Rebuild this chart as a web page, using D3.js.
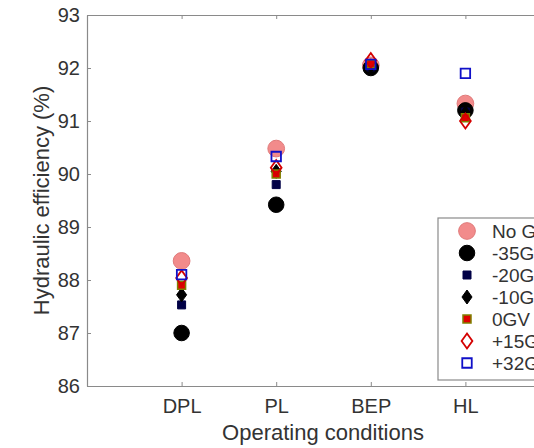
<!DOCTYPE html>
<html>
<head>
<meta charset="utf-8">
<script src="https://cdn.jsdelivr.net/npm/d3@7"></script>
<style>
  body { margin: 0; background: #fff; }
  text { font-family: "Liberation Sans", Arial, sans-serif; }
</style>
</head>
<body>
<script>
// operating points and guide vane cases
var conditions = ["DPL", "PL", "BEP", "HL"];
var yTicks = [86, 87, 88, 89, 90, 91, 92, 93];

var noGV   = [88.36, 90.48, 92.05, 91.33];
var gvM35  = [87.00, 89.42, 92.00, 91.20];
var gvM20  = [87.53, 89.80, 92.02, 91.17];
var gvM10  = [87.72, 90.05, 92.04, 91.15];
var gv0    = [87.90, 90.00, 92.08, 91.06];
var gvP15  = [88.04, 90.12, 92.14, 91.00];
var gvP32  = [88.10, 90.33, 92.07, 91.90];

var series = [
  {name: "No GV", values: noGV,  shape: d3.symbolCircle,  size: 220, fill: "#f28b8b", stroke: "#e07a7a", sw: 1},
  {name: "-35GV", values: gvM35, shape: d3.symbolCircle,  size: 190, fill: "#000",    stroke: "#000",    sw: 1},
  {name: "-20GV", values: gvM20, shape: d3.symbolSquare,  size: 64,  fill: "#000046", stroke: "#000046", sw: 1},
  {name: "-10GV", values: gvM10, shape: "diamond",        size: 7,   fill: "#000",    stroke: "#000",    sw: 1},
  {name: "0GV",   values: gv0,   shape: d3.symbolSquare,  size: 64,  fill: "#e00000", stroke: "#808000", sw: 1.5},
  {name: "+15GV", values: gvP15, shape: "diamond",        size: 7.5, fill: "none",    stroke: "#d40000", sw: 1.8},
  {name: "+32GV", values: gvP32, shape: d3.symbolSquare,  size: 90,  fill: "none",    stroke: "#1010c8", sw: 1.8}
];

var W = 534, H = 448;
var mLeft = 87, mTop = 15, mBottom = 386, mRight = 560;

var svg = d3.select("body").append("svg")
    .attr("width", W)
    .attr("height", H);

var x = d3.scaleLinear().domain([0, 5]).range([mLeft, mRight]);
var y = d3.scaleLinear().domain([86, 93]).range([mBottom, mTop]);

function markerPath(s) {
  if (s.shape === "diamond") {
    var a = s.size;
    return "M0," + (-a) + "L" + (a * 0.72) + ",0L0," + a + "L" + (-a * 0.72) + ",0Z";
  }
  return d3.symbol().type(s.shape).size(s.size)();
}

// axes
var xAxis = svg.append("g")
    .attr("transform", "translate(0," + mBottom + ")")
    .call(d3.axisBottom(x).tickValues([1, 2, 3, 4])
      .tickFormat(function(d) { return conditions[d - 1]; })
      .tickSizeInner(-4).tickSizeOuter(0).tickPadding(13));

var xTop = svg.append("g")
    .attr("transform", "translate(0," + mTop + ")")
    .call(d3.axisTop(x).tickValues([1, 2, 3, 4]).tickFormat("")
      .tickSizeInner(-4).tickSizeOuter(0));

var yAxis = svg.append("g")
    .attr("transform", "translate(" + mLeft + ",0)")
    .call(d3.axisLeft(y).tickValues(yTicks).tickFormat(d3.format("d"))
      .tickSizeInner(-4).tickSizeOuter(0).tickPadding(7));

[xAxis, xTop, yAxis].forEach(function(g) {
  g.select(".domain").attr("stroke", "#8a8a8a").attr("stroke-width", 1.2);
  g.selectAll(".tick line").attr("stroke", "#8a8a8a");
  g.selectAll(".tick text").attr("fill", "#333").style("font-size", "20px");
});

// axis titles
svg.append("text")
    .attr("x", 323).attr("y", 440)
    .attr("text-anchor", "middle")
    .attr("fill", "#333")
    .style("font-size", "22px")
    .text("Operating conditions");

svg.append("text")
    .attr("transform", "translate(49," + ((mTop + mBottom) / 2) + ") rotate(-90)")
    .attr("text-anchor", "middle")
    .attr("fill", "#333")
    .style("font-size", "22px")
    .text("Hydraulic efficiency (%)");

// points
series.forEach(function(s) {
  svg.append("g").selectAll("path")
    .data(s.values)
    .enter().append("path")
      .attr("d", markerPath(s))
      .attr("transform", function(d, i) { return "translate(" + x(i + 1) + "," + y(d) + ")"; })
      .attr("fill", s.fill)
      .attr("stroke", s.stroke)
      .attr("stroke-width", s.sw);
});

// legend
var legend = svg.append("g").attr("transform", "translate(438,218)");
legend.append("rect")
    .attr("width", 140).attr("height", 162)
    .attr("fill", "#fff")
    .attr("stroke", "#8a8a8a")
    .attr("stroke-width", 1.2);

var item = legend.selectAll(".item")
    .data(series)
    .enter().append("g")
      .attr("class", "item")
      .attr("transform", function(d, i) { return "translate(29," + (13 + i * 22) + ")"; });

item.append("path")
    .attr("d", function(d) { return markerPath(d); })
    .attr("fill", function(d) { return d.fill; })
    .attr("stroke", function(d) { return d.stroke; })
    .attr("stroke-width", function(d) { return d.sw; });

item.append("text")
    .attr("x", 25)
    .attr("dy", "0.36em")
    .attr("fill", "#333")
    .style("font-size", "19px")
    .text(function(d) { return d.name; });
</script>
</body>
</html>
